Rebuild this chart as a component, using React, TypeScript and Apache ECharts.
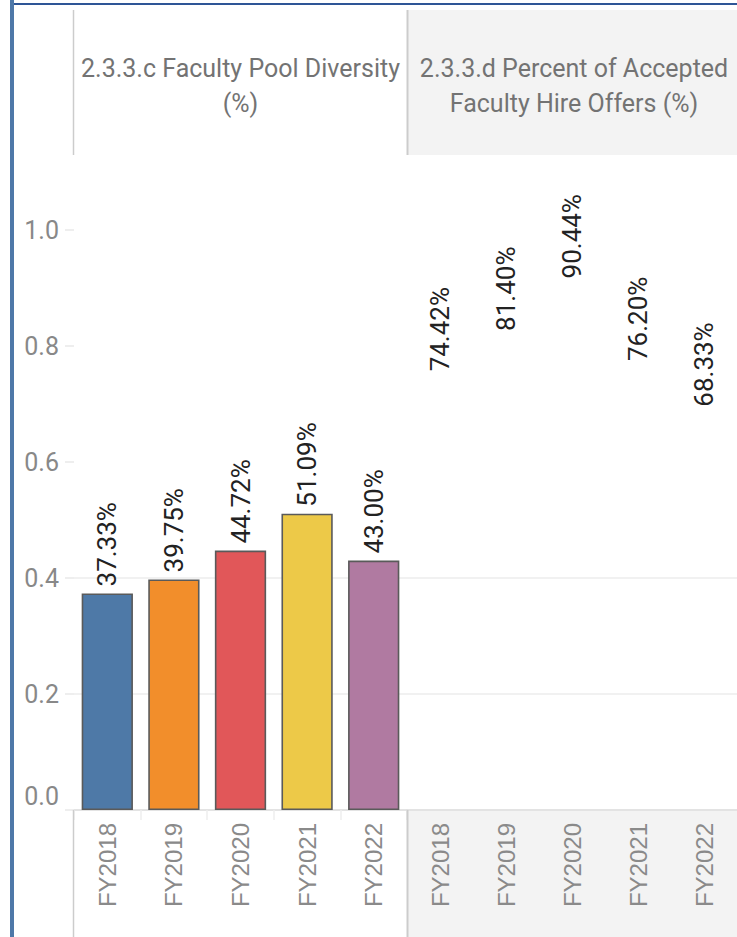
import React, { useEffect, useRef } from "react";
import * as echarts from "echarts";

const years = ["FY2018", "FY2019", "FY2020", "FY2021", "FY2022"];
const poolDiversity = [0.3733, 0.3975, 0.4472, 0.5109, 0.43];
const acceptedOffers = [0.7442, 0.814, 0.9044, 0.762, 0.6833];
const barColors = ["#4e79a7", "#f28e2b", "#e15759", "#edc948", "#b07aa1"];
const leftTitle = ["2.3.3.c Faculty Pool Diversity", "(%)"];
const rightTitle = ["2.3.3.d Percent of Accepted", "Faculty Hire Offers (%)"];

const W = 737;
const H = 937;
const PLOT_TOP = 230;
const PLOT_BOTTOM = 810;
const LEFT_X = 74;
const MID_X = 407;

const FONT = "Roboto, 'Open Sans', sans-serif";
const pct = (v: number) => `${(v * 100).toFixed(2)}%`;

// only the lower three gridlines are drawn
const gridColors = ["#ececec", "#ececec", "#ececec", "rgba(0,0,0,0)", "rgba(0,0,0,0)", "rgba(0,0,0,0)"];

export default function App() {
  const ref = useRef<HTMLDivElement>(null);

  useEffect(() => {
    if (!ref.current) return;
    const chart = echarts.init(ref.current, undefined, { renderer: "svg" });

    const labelCfg = {
      show: true,
      position: "top" as const,
      rotate: 90,
      distance: 7,
      align: "left" as const,
      verticalAlign: "middle" as const,
      color: "#222",
      fontFamily: FONT,
      fontSize: 26,
      formatter: (p: any) => pct(p.value),
    };

    const yAxisBase = {
      type: "value" as const,
      min: 0,
      max: 1,
      interval: 0.2,
      axisLine: { show: false },
      splitLine: { show: true, lineStyle: { color: gridColors, width: 1.5 } },
    };

    const xAxisBase = {
      type: "category" as const,
      data: years,
      axisLine: { show: true, lineStyle: { color: "#dedede", width: 1.5 } },
      axisLabel: {
        rotate: 90,
        margin: 13,
        color: "#8a8a8a",
        fontFamily: "'Liberation Sans', Arial, sans-serif",
        fontSize: 24,
      },
    };

    const headerText = (lines: string[], cx: number) =>
      lines.map((t, i) => ({
        type: "text",
        x: cx,
        y: 68 + i * 35,
        style: {
          text: t,
          fill: "#737373",
          font: `25px ${FONT}`,
          align: "center",
          verticalAlign: "middle",
        },
        z: 10,
      }));

    chart.setOption({
      animation: false,
      backgroundColor: "#ffffff",
      graphic: [
        // frame
        { type: "rect", shape: { x: 10, y: 0, width: 4, height: H }, style: { fill: "#4e78a8" }, z: 5 },
        { type: "rect", shape: { x: 14, y: 3, width: W - 14, height: 2 }, style: { fill: "#2e5596" }, z: 5 },
        // column headers
        { type: "rect", shape: { x: MID_X + 1, y: 10, width: W - MID_X - 1, height: 145 }, style: { fill: "#f3f3f3" }, z: 1 },
        { type: "line", shape: { x1: 73.5, y1: 10, x2: 73.5, y2: 155 }, style: { stroke: "#cccccc", lineWidth: 1.5 }, z: 2 },
        { type: "line", shape: { x1: MID_X + 0.5, y1: 10, x2: MID_X + 0.5, y2: 155 }, style: { stroke: "#cccccc", lineWidth: 2 }, z: 2 },
        ...headerText(leftTitle, (LEFT_X + MID_X) / 2),
        ...headerText(rightTitle, (MID_X + W) / 2 + 2),
        // category header band
        { type: "rect", shape: { x: MID_X + 1, y: PLOT_BOTTOM + 1, width: W - MID_X - 1, height: H - PLOT_BOTTOM - 1 }, style: { fill: "#f3f3f3" }, z: -1 },
        { type: "line", shape: { x1: 73.5, y1: PLOT_BOTTOM, x2: 73.5, y2: H }, style: { stroke: "#cccccc", lineWidth: 1.5 }, z: 2 },
        { type: "line", shape: { x1: MID_X + 0.5, y1: PLOT_BOTTOM, x2: MID_X + 0.5, y2: H }, style: { stroke: "#cccccc", lineWidth: 2 }, z: 2 },
      ],
      grid: [
        { left: LEFT_X, width: MID_X - LEFT_X, top: PLOT_TOP, height: PLOT_BOTTOM - PLOT_TOP, containLabel: false },
        { left: MID_X, width: W - MID_X, top: PLOT_TOP, height: PLOT_BOTTOM - PLOT_TOP, containLabel: false },
      ],
      xAxis: [
        {
          ...xAxisBase,
          gridIndex: 0,
          axisTick: { show: true, length: 10, lineStyle: { color: "#eeeeee", width: 1.5 } },
        },
        {
          ...xAxisBase,
          gridIndex: 1,
          axisTick: { show: false },
        },
      ],
      yAxis: [
        {
          ...yAxisBase,
          gridIndex: 0,
          axisTick: { show: true, length: 9, lineStyle: { color: "#e8e8e8", width: 1.5 } },
          axisLabel: {
            margin: 15,
            color: "#888888",
            fontFamily: FONT,
            fontSize: 25,
            // the zero label sits inside the pane, above the baseline
            formatter: (v: number) => (v === 0 ? `{base|${v.toFixed(1)}}` : v.toFixed(1)),
            rich: {
              base: {
                color: "#888888",
                fontFamily: FONT,
                fontSize: 25,
                padding: [0, 0, 28, 0],
              },
            },
          },
        },
        {
          ...yAxisBase,
          gridIndex: 1,
          axisTick: { show: false },
          axisLabel: { show: false },
        },
      ],
      series: [
        {
          type: "bar",
          xAxisIndex: 0,
          yAxisIndex: 0,
          barCategoryGap: "23%",
          data: poolDiversity.map((v, i) => ({
            value: v,
            itemStyle: { color: barColors[i], borderColor: "#5a5a5a", borderWidth: 1.6 },
          })),
          label: labelCfg,
        },
        {
          type: "bar",
          xAxisIndex: 1,
          yAxisIndex: 1,
          barCategoryGap: "23%",
          data: acceptedOffers.map((v) => ({
            value: v,
            itemStyle: { color: "rgba(0,0,0,0)", borderWidth: 0 },
          })),
          label: labelCfg,
        },
      ],
    });

    return () => chart.dispose();
  }, []);

  return (
    <div
      ref={ref}
      style={{ position: "fixed", left: 0, top: 0, width: W, height: H }}
    />
  );
}
